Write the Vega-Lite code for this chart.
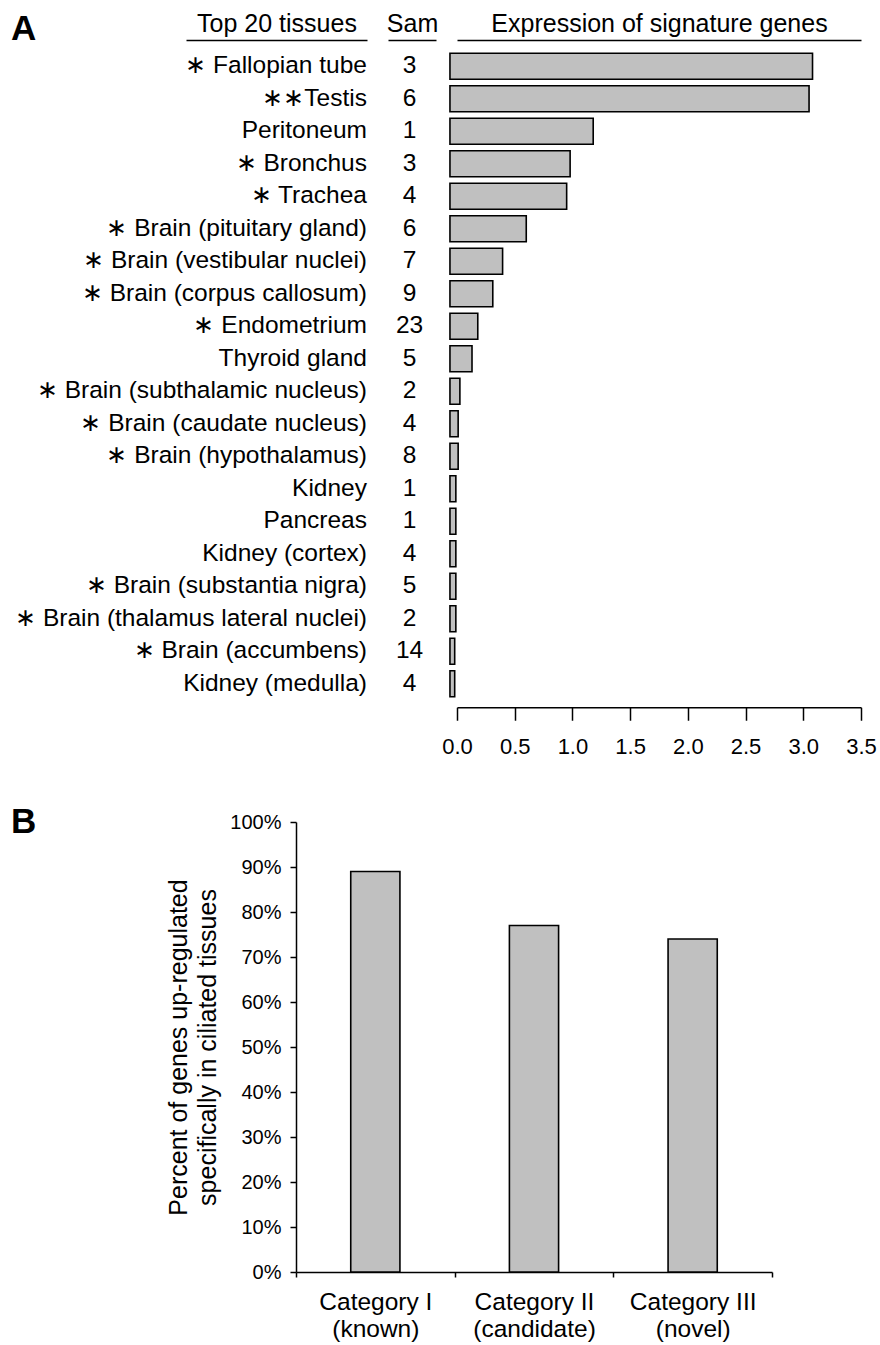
{
  "$schema": "https://vega.github.io/schema/vega-lite/v6.json",
  "background": "white",
  "padding": {"left": 11, "top": 11, "right": 5, "bottom": 5},
  "bounds": "full",
  "spacing": 47,
  "config": {
    "view": {"stroke": null},
    "font": "Liberation Sans",
    "axis": {"labelColor": "black", "titleColor": "black", "domainColor": "black", "tickColor": "black", "labelFont": "Liberation Sans", "titleFont": "Liberation Sans", "titleFontWeight": "normal", "grid": false, "domainWidth": 1.5, "tickWidth": 1.5},
    "title": {"font": "Liberation Sans", "color": "black"}
  },
  "datasets": {
    "tissues": [
      {"tissue": "Fallopian tube", "label": "∗ Fallopian tube", "samples": 3, "value": 3.08},
      {"tissue": "Testis", "label": "∗∗Testis", "samples": 6, "value": 3.05},
      {"tissue": "Peritoneum", "label": "Peritoneum", "samples": 1, "value": 1.18},
      {"tissue": "Bronchus", "label": "∗ Bronchus", "samples": 3, "value": 0.98},
      {"tissue": "Trachea", "label": "∗ Trachea", "samples": 4, "value": 0.95},
      {"tissue": "Brain (pituitary gland)", "label": "∗ Brain (pituitary gland)", "samples": 6, "value": 0.6},
      {"tissue": "Brain (vestibular nuclei)", "label": "∗ Brain (vestibular nuclei)", "samples": 7, "value": 0.395},
      {"tissue": "Brain (corpus callosum)", "label": "∗ Brain (corpus callosum)", "samples": 9, "value": 0.31},
      {"tissue": "Endometrium", "label": "∗ Endometrium", "samples": 23, "value": 0.18},
      {"tissue": "Thyroid gland", "label": "Thyroid gland", "samples": 5, "value": 0.13},
      {"tissue": "Brain (subthalamic nucleus)", "label": "∗ Brain (subthalamic nucleus)", "samples": 2, "value": 0.025},
      {"tissue": "Brain (caudate nucleus)", "label": "∗ Brain (caudate nucleus)", "samples": 4, "value": 0.01},
      {"tissue": "Brain (hypothalamus)", "label": "∗ Brain (hypothalamus)", "samples": 8, "value": 0.01},
      {"tissue": "Kidney", "label": "Kidney", "samples": 1, "value": -0.01},
      {"tissue": "Pancreas", "label": "Pancreas", "samples": 1, "value": -0.01},
      {"tissue": "Kidney (cortex)", "label": "Kidney (cortex)", "samples": 4, "value": -0.01},
      {"tissue": "Brain (substantia nigra)", "label": "∗ Brain (substantia nigra)", "samples": 5, "value": -0.01},
      {"tissue": "Brain (thalamus lateral nuclei)", "label": "∗ Brain (thalamus lateral nuclei)", "samples": 2, "value": -0.01},
      {"tissue": "Brain (accumbens)", "label": "∗ Brain (accumbens)", "samples": 14, "value": -0.02},
      {"tissue": "Kidney (medulla)", "label": "Kidney (medulla)", "samples": 4, "value": -0.02}
    ],
    "categories": [
      {"category": "Category I (known)", "percent": 0.89},
      {"category": "Category II (candidate)", "percent": 0.77},
      {"category": "Category III (novel)", "percent": 0.74}
    ]
  },
  "vconcat": [
    {
      "title": {"text": "A", "anchor": "start", "frame": "group", "fontSize": 35, "fontWeight": "bold", "baseline": "alphabetic", "dx": -175, "dy": 68},
      "bounds": "flush",
      "spacing": 21,
      "hconcat": [
        {
          "width": 181,
          "height": 650,
          "data": {"name": "tissues"},
          "mark": {"type": "text", "align": "right", "baseline": "middle", "fontSize": 24.5, "font": "Liberation Sans", "color": "black"},
          "encoding": {
            "y": {"field": "tissue", "type": "nominal", "sort": null, "axis": null, "scale": {"paddingInner": 0.2, "paddingOuter": 0.1}},
            "x": {"datum": 1, "type": "quantitative", "scale": {"domain": [0, 1]}, "axis": {"orient": "top", "title": "Top 20 tissues", "labels": false, "ticks": false, "domain": true, "offset": 10, "titleFontSize": 25, "titlePadding": 4}},
            "text": {"field": "label"}
          }
        },
        {
          "width": 48,
          "height": 650,
          "data": {"name": "tissues"},
          "mark": {"type": "text", "align": "center", "baseline": "middle", "fontSize": 24.5, "font": "Liberation Sans", "color": "black"},
          "encoding": {
            "y": {"field": "tissue", "type": "nominal", "sort": null, "axis": null, "scale": {"paddingInner": 0.2, "paddingOuter": 0.1}},
            "x": {"datum": 0.45, "type": "quantitative", "scale": {"domain": [0, 1]}, "axis": {"orient": "top", "title": "Sam", "labels": false, "ticks": false, "domain": true, "offset": 10, "titleFontSize": 25, "titlePadding": 4}},
            "text": {"field": "samples", "type": "quantitative"}
          }
        },
        {
          "width": 404,
          "height": 650,
          "data": {"name": "tissues"},
          "layer": [
            {
              "mark": {"type": "bar", "color": "#c0c0c0", "stroke": "black", "strokeWidth": 1.6},
              "encoding": {
                "y": {"field": "tissue", "type": "nominal", "sort": null, "axis": null, "scale": {"paddingInner": 0.2, "paddingOuter": 0.1}},
                "x": {"field": "value", "type": "quantitative", "scale": {"domain": [0, 3.5], "nice": false, "zero": false}, "axis": {"orient": "bottom", "title": null, "values": [0, 0.5, 1, 1.5, 2, 2.5, 3, 3.5], "format": ".1f", "offset": 7.25, "tickSize": 13, "labelPadding": 16, "labelFontSize": 22, "labelFlush": false}},
                "x2": {"datum": -0.061}
              }
            },
            {
              "mark": {"type": "rule", "opacity": 0},
              "encoding": {
                "x": {"datum": 0, "type": "quantitative", "scale": {"domain": [0, 1]}, "axis": {"orient": "top", "title": "Expression of signature genes", "labels": false, "ticks": false, "domain": true, "offset": 10, "titleFontSize": 25, "titlePadding": 4}}
              }
            }
          ],
          "resolve": {"scale": {"x": "independent"}, "axis": {"x": "independent"}}
        }
      ]
    },
    {
      "title": {"text": "B", "anchor": "start", "frame": "group", "fontSize": 35, "fontWeight": "bold", "baseline": "alphabetic", "dx": -175, "dy": 60},
      "bounds": "flush",
      "spacing": 0,
      "hconcat": [
        {
          "width": 110,
          "height": 450,
          "data": {"values": []},
          "mark": {"type": "point", "opacity": 0},
          "encoding": {}
        },
        {
          "width": 476,
          "height": 450,
          "data": {"name": "categories"},
          "mark": {"type": "bar", "color": "#c0c0c0", "stroke": "black", "strokeWidth": 1.6, "width": {"band": 0.31}},
          "encoding": {
            "x": {"field": "category", "type": "nominal", "sort": null, "scale": {"paddingInner": 0, "paddingOuter": 0}, "axis": {"title": null, "labelAngle": 0, "tickBand": "extent", "tickSize": 5, "labelPadding": 13, "labelFontSize": 24.5, "labelLineHeight": 27, "labelExpr": "[slice(datum.label, 0, indexof(datum.label, ' (')), slice(datum.label, indexof(datum.label, ' (') + 1)]"}},
            "y": {"field": "percent", "type": "quantitative", "scale": {"domain": [0, 1], "nice": false}, "axis": {"title": ["Percent of genes up-regulated", "specifically in ciliated tissues"], "values": [0, 0.1, 0.2, 0.3, 0.4, 0.5, 0.6, 0.7, 0.8, 0.9, 1], "format": ".0%", "tickSize": 6, "labelPadding": 9, "labelFontSize": 20, "titleFontSize": 25, "titleLineHeight": 29, "titlePadding": 9}}
          }
        }
      ]
    }
  ]
}
